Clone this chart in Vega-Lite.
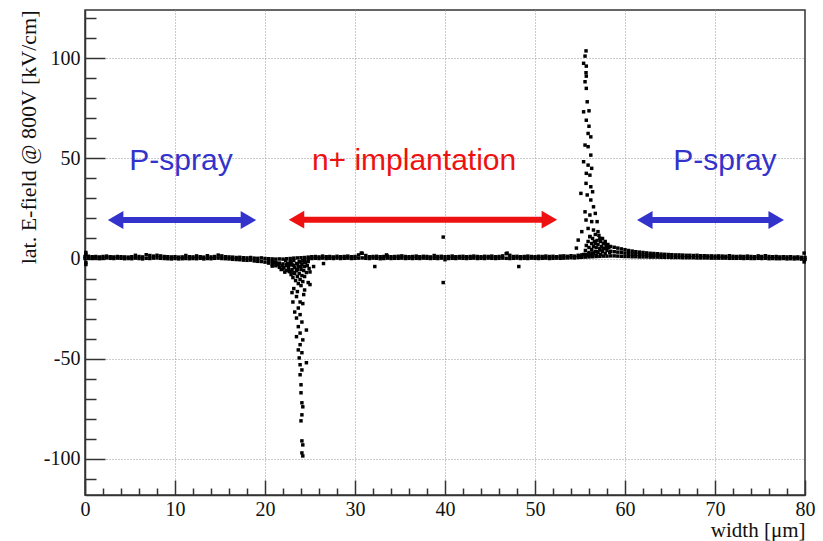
{
  "$schema": "https://vega.github.io/schema/vega-lite/v6.json",
  "width": 720,
  "height": 485,
  "autosize": {"type": "none"},
  "padding": {"left": 85, "top": 10, "right": 18, "bottom": 46},
  "background": "white",
  "config": {
    "view": {"stroke": "#333333", "strokeWidth": 1.5},
    "axis": {
      "labelFont": "Liberation Serif",
      "labelFontSize": 20,
      "labelColor": "#111111",
      "titleFont": "Liberation Serif",
      "titleFontSize": 21,
      "titleFontWeight": "normal",
      "titleColor": "#111111",
      "domainColor": "#333333",
      "domainWidth": 1.5,
      "tickColor": "#333333",
      "tickWidth": 1.5,
      "gridColor": "#999999",
      "gridDash": [1, 2],
      "gridWidth": 1
    }
  },
  "datasets": {
    "base": [
      {"x":0,"a":1.0,"b":0.0},{"x":0.4,"a":1.1,"b":0.2},{"x":0.8,"a":0.9,"b":0.1},{"x":1.2,"a":1.0,"b":0.3},{"x":1.6,"a":0.8,"b":0.0},
      {"x":2.0,"a":1.0,"b":0.2},{"x":2.4,"a":1.2,"b":0.3},{"x":2.8,"a":0.9,"b":0.1},{"x":3.2,"a":0.8,"b":0.0},{"x":3.6,"a":1.0,"b":0.2},
      {"x":4.0,"a":0.9,"b":0.1},{"x":4.4,"a":0.8,"b":-0.1},{"x":4.8,"a":0.7,"b":0.0},{"x":5.2,"a":0.9,"b":-0.1},{"x":5.6,"a":1.6,"b":0.2},
      {"x":6.0,"a":1.0,"b":0.0},{"x":6.4,"a":0.8,"b":-0.2},{"x":6.8,"a":1.9,"b":0.1},{"x":7.2,"a":1.5,"b":0.0},{"x":7.6,"a":1.2,"b":0.2},
      {"x":8.0,"a":1.6,"b":0.3},{"x":8.4,"a":1.3,"b":0.1},{"x":8.8,"a":1.0,"b":0.0},{"x":9.2,"a":0.9,"b":-0.1},{"x":9.6,"a":0.8,"b":-0.2},
      {"x":10.0,"a":0.9,"b":0.0},{"x":10.4,"a":0.7,"b":-0.2},{"x":10.8,"a":0.8,"b":-0.1},{"x":11.2,"a":1.5,"b":0.0},{"x":11.6,"a":0.9,"b":-0.1},
      {"x":12.0,"a":0.8,"b":0.0},{"x":12.4,"a":1.3,"b":-0.1},{"x":12.8,"a":0.9,"b":0.1},{"x":13.2,"a":0.7,"b":-0.2},{"x":13.6,"a":1.4,"b":0.0},
      {"x":14.0,"a":0.8,"b":-0.1},{"x":14.4,"a":1.0,"b":0.1},{"x":14.8,"a":1.7,"b":0.2},{"x":15.2,"a":1.3,"b":0.0},{"x":15.6,"a":0.9,"b":-0.1},
      {"x":16.0,"a":0.8,"b":-0.2},{"x":16.4,"a":0.7,"b":-0.4},{"x":16.8,"a":0.5,"b":-0.5},{"x":17.2,"a":0.6,"b":-0.6},{"x":17.6,"a":0.4,"b":-0.8},
      {"x":18.0,"a":0.3,"b":-0.9},{"x":18.4,"a":0.5,"b":-0.8},{"x":18.8,"a":0.2,"b":-1.2},{"x":19.2,"a":0.1,"b":-1.4},{"x":19.6,"a":0.3,"b":-1.5},
      {"x":20.0,"a":0.0,"b":-1.8},{"x":20.4,"a":-0.1,"b":-2.3,"m":-1.2},{"x":20.8,"a":-0.2,"b":-2.9,"m":-1.5},{"x":21.2,"a":-0.3,"b":-3.6,"m":-1.9},{"x":21.6,"a":-0.2,"b":-4.4,"m":-2.3},
      {"x":22.0,"a":-0.3,"b":-5.2,"m":-2.7},{"x":22.4,"a":-0.1,"b":-6.0,"m":-3.0},{"x":22.8,"a":0.0,"b":-6.5,"m":-3.2},{"x":23.2,"a":0.2,"b":-7.0,"m":-3.5},{"x":23.6,"a":0.3,"b":-5.5,"m":-2.6},
      {"x":24.0,"a":0.4,"b":-4.0,"m":-2.0},{"x":24.4,"a":0.5,"b":-2.0,"m":-1.0},{"x":24.8,"a":0.7,"b":-0.3},{"x":25.2,"a":0.9,"b":0.0},{"x":25.6,"a":1.0,"b":0.1},
      {"x":26.0,"a":0.8,"b":0.0},{"x":26.4,"a":1.2,"b":0.2},{"x":26.8,"a":0.9,"b":0.0},{"x":27.2,"a":1.0,"b":0.1},{"x":27.6,"a":0.8,"b":0.0},
      {"x":28.0,"a":1.1,"b":0.2},{"x":28.4,"a":0.9,"b":0.0},{"x":28.8,"a":1.0,"b":0.1},{"x":29.2,"a":1.2,"b":0.2},{"x":29.6,"a":0.9,"b":0.0},
      {"x":30.0,"a":1.0,"b":0.1},{"x":30.4,"a":1.8,"b":0.2},{"x":30.8,"a":2.6,"b":0.3},{"x":31.2,"a":1.5,"b":0.1},{"x":31.6,"a":0.9,"b":0.0},
      {"x":32.0,"a":1.0,"b":0.2},{"x":32.4,"a":1.1,"b":0.1},{"x":32.8,"a":0.9,"b":-0.1},{"x":33.2,"a":1.0,"b":0.0},{"x":33.6,"a":1.2,"b":0.2},
      {"x":34.0,"a":0.9,"b":0.0},{"x":34.4,"a":1.0,"b":0.1},{"x":34.8,"a":1.1,"b":0.1},{"x":35.2,"a":1.3,"b":0.2},{"x":35.6,"a":1.0,"b":0.0},
      {"x":36.0,"a":0.9,"b":0.1},{"x":36.4,"a":1.0,"b":0.0},{"x":36.8,"a":1.2,"b":0.1},{"x":37.2,"a":0.9,"b":0.0},{"x":37.6,"a":1.1,"b":0.2},
      {"x":38.0,"a":1.0,"b":0.1},{"x":38.4,"a":0.8,"b":0.0},{"x":38.8,"a":1.5,"b":0.1},{"x":39.2,"a":1.0,"b":0.0},{"x":39.6,"a":1.1,"b":0.2},
      {"x":40.0,"a":0.9,"b":-0.6},{"x":40.4,"a":1.0,"b":0.0},{"x":40.8,"a":1.2,"b":0.1},{"x":41.2,"a":0.9,"b":0.0},{"x":41.6,"a":1.0,"b":0.2},
      {"x":42.0,"a":1.1,"b":0.1},{"x":42.4,"a":0.9,"b":0.0},{"x":42.8,"a":1.0,"b":0.1},{"x":43.2,"a":1.2,"b":0.2},{"x":43.6,"a":1.0,"b":0.0},
      {"x":44.0,"a":0.9,"b":0.1},{"x":44.4,"a":1.1,"b":0.0},{"x":44.8,"a":1.0,"b":0.2},{"x":45.2,"a":1.2,"b":0.1},{"x":45.6,"a":0.9,"b":0.0},
      {"x":46.0,"a":1.0,"b":0.1},{"x":46.4,"a":1.3,"b":0.2},{"x":46.8,"a":2.4,"b":0.1},{"x":47.2,"a":1.6,"b":0.0},{"x":47.6,"a":1.0,"b":0.1},
      {"x":48.0,"a":1.1,"b":0.2},{"x":48.4,"a":0.9,"b":0.0},{"x":48.8,"a":1.0,"b":0.1},{"x":49.2,"a":1.2,"b":0.0},{"x":49.6,"a":1.0,"b":0.2},
      {"x":50.0,"a":0.9,"b":0.1},{"x":50.4,"a":1.1,"b":0.0},{"x":50.8,"a":1.0,"b":0.1},{"x":51.2,"a":1.2,"b":0.2},{"x":51.6,"a":1.0,"b":0.0},
      {"x":52.0,"a":1.1,"b":0.1},{"x":52.4,"a":0.9,"b":0.2},{"x":52.8,"a":1.2,"b":0.1},{"x":53.2,"a":1.3,"b":0.2},{"x":53.6,"a":1.1,"b":0.3},
      {"x":54.0,"a":1.4,"b":0.4},{"x":54.4,"a":1.2,"b":0.3},{"x":54.8,"a":1.6,"b":0.5},{"x":55.2,"a":1.8,"b":0.6},{"x":55.6,"a":2.0,"b":0.7},
      {"x":56.0,"a":2.4,"b":0.8},{"x":56.4,"a":2.8,"b":0.9},{"x":56.8,"a":3.4,"b":1.0},{"x":57.2,"a":4.2,"b":1.1},{"x":57.6,"a":5.0,"b":1.2},
      {"x":58.0,"a":5.6,"b":1.2},{"x":58.4,"a":6.0,"b":1.3,"m":3.6},{"x":58.8,"a":5.6,"b":1.3,"m":3.4},{"x":59.2,"a":5.2,"b":1.2,"m":3.2},{"x":59.6,"a":4.8,"b":1.1,"m":3.0},
      {"x":60.0,"a":4.4,"b":1.0,"m":2.7},{"x":60.4,"a":4.0,"b":1.0,"m":2.5},{"x":60.8,"a":3.7,"b":0.9,"m":2.3},{"x":61.2,"a":3.4,"b":0.9,"m":2.1},{"x":61.6,"a":3.2,"b":0.8,"m":2.0},
      {"x":62.0,"a":3.0,"b":0.8,"m":1.9},{"x":62.4,"a":2.8,"b":0.8,"m":1.8},{"x":62.8,"a":2.6,"b":0.7,"m":1.6},{"x":63.2,"a":2.5,"b":0.7,"m":1.6},{"x":63.6,"a":2.4,"b":0.7,"m":1.5},
      {"x":64.0,"a":2.2,"b":0.6,"m":1.4},{"x":64.4,"a":2.1,"b":0.6},{"x":64.8,"a":2.0,"b":0.6},{"x":65.2,"a":1.9,"b":0.5},{"x":65.6,"a":1.8,"b":0.5},
      {"x":66.0,"a":1.8,"b":0.5},{"x":66.4,"a":1.7,"b":0.4},{"x":66.8,"a":1.6,"b":0.4},{"x":67.2,"a":1.6,"b":0.4},{"x":67.6,"a":1.5,"b":0.4},
      {"x":68.0,"a":1.6,"b":0.3},{"x":68.4,"a":1.4,"b":0.3},{"x":68.8,"a":1.4,"b":0.3},{"x":69.2,"a":1.3,"b":0.3},{"x":69.6,"a":1.3,"b":0.2},
      {"x":70.0,"a":1.2,"b":0.2},{"x":70.4,"a":1.3,"b":0.2},{"x":70.8,"a":1.2,"b":0.2},{"x":71.2,"a":1.1,"b":0.2},{"x":71.6,"a":1.4,"b":0.1},
      {"x":72.0,"a":1.1,"b":0.1},{"x":72.4,"a":1.0,"b":0.1},{"x":72.8,"a":1.1,"b":0.1},{"x":73.2,"a":1.0,"b":0.0},{"x":73.6,"a":1.2,"b":0.1},
      {"x":74.0,"a":1.0,"b":0.0},{"x":74.4,"a":0.9,"b":0.0},{"x":74.8,"a":1.3,"b":0.1},{"x":75.2,"a":1.0,"b":0.0},{"x":75.6,"a":1.4,"b":0.1},
      {"x":76.0,"a":1.0,"b":-0.1},{"x":76.4,"a":0.9,"b":0.0},{"x":76.8,"a":1.0,"b":-0.1},{"x":77.2,"a":0.8,"b":-0.1},{"x":77.6,"a":0.9,"b":0.0},
      {"x":78.0,"a":0.8,"b":-0.2},{"x":78.4,"a":0.9,"b":-0.1},{"x":78.8,"a":0.7,"b":-0.2},{"x":79.2,"a":0.8,"b":-0.1},{"x":79.6,"a":0.6,"b":-0.3},
      {"x":80.0,"a":0.5,"b":-0.5}
    ],
    "pts": [
      {"x":0.1,"y":3.0},{"x":0.1,"y":2.0},{"x":0.1,"y":-2.0},{"x":0.1,"y":-3.0},{"x":79.9,"y":2.7},{"x":79.9,"y":-1.7},
      {"x":22.3,"y":-1},{"x":22.5,"y":-2.5},{"x":22.6,"y":-4},{"x":22.7,"y":-6.5},{"x":22.8,"y":-1.5},{"x":22.9,"y":-8},
      {"x":23.0,"y":-3},{"x":23.0,"y":-5.5},{"x":23.1,"y":-9.5},{"x":23.2,"y":-1},{"x":23.3,"y":-4.5},{"x":23.3,"y":-7.5},
      {"x":23.4,"y":-11},{"x":23.5,"y":-2.5},{"x":23.5,"y":-6},{"x":23.6,"y":-9},{"x":23.7,"y":-12.5},{"x":23.7,"y":-4},
      {"x":23.8,"y":-1.5},{"x":23.8,"y":-7.5},{"x":23.9,"y":-10.5},{"x":24.0,"y":-5.5},{"x":24.0,"y":-13.5},{"x":24.1,"y":-3},
      {"x":24.1,"y":-8.5},{"x":24.2,"y":-1},{"x":24.2,"y":-11.5},{"x":24.3,"y":-6},{"x":24.4,"y":-4},{"x":24.4,"y":-9},
      {"x":24.5,"y":-2},{"x":24.6,"y":-7},{"x":24.7,"y":-3.5},{"x":24.8,"y":-1.5},{"x":24.9,"y":-5},{"x":25.0,"y":-6.7},
      {"x":24.8,"y":-12},{"x":24.4,"y":-15.7},{"x":22.6,"y":-5.5},{"x":22.9,"y":-2.2},{"x":22.4,"y":-3.5},{"x":22.1,"y":-4.5},
      {"x":21.9,"y":-3.5},{"x":21.5,"y":-3},{"x":21.8,"y":-5.5},{"x":21.3,"y":-2.5},{"x":21.0,"y":-2},{"x":20.8,"y":-3.8},{"x":22.2,"y":-6.8},
      {"x":23.2,"y":-15},{"x":24.3,"y":-18},{"x":23.6,"y":-16.5},
      {"x":23.0,"y":-17},{"x":23.5,"y":-19},{"x":23.1,"y":-21.7},{"x":23.9,"y":-21.7},{"x":24.2,"y":-22.5},{"x":23.7,"y":-24.7},
      {"x":23.3,"y":-26.7},{"x":23.9,"y":-28},{"x":23.5,"y":-29.7},{"x":24.1,"y":-31.7},{"x":23.7,"y":-34},{"x":24.6,"y":-35.7},
      {"x":23.9,"y":-37.2},{"x":23.5,"y":-39},{"x":24.2,"y":-40.6},{"x":23.9,"y":-43},{"x":23.7,"y":-45.6},{"x":24.1,"y":-47},
      {"x":23.8,"y":-49.6},{"x":24.6,"y":-52},{"x":23.9,"y":-53},{"x":24.1,"y":-55.6},{"x":23.9,"y":-58},{"x":24.0,"y":-63},
      {"x":24.0,"y":-67},{"x":24.1,"y":-72},{"x":24.2,"y":-74},{"x":24.1,"y":-78},{"x":24.0,"y":-81},{"x":24.1,"y":-91},
      {"x":24.2,"y":-93},{"x":24.1,"y":-97},{"x":24.2,"y":-98.5},
      {"x":25.0,"y":-13},{"x":25.4,"y":-4},{"x":26.5,"y":-2.5},{"x":32.2,"y":-4},{"x":39.8,"y":10.7},{"x":39.8,"y":-12},
      {"x":48.2,"y":-4},{"x":30.7,"y":2.7},{"x":46.9,"y":2.7},{"x":33.5,"y":1.8},
      {"x":55.67,"y":103.6},{"x":55.56,"y":101},{"x":55.4,"y":97.4},{"x":55.7,"y":96},{"x":55.67,"y":92.7},{"x":55.7,"y":91},
      {"x":55.56,"y":88.2},{"x":55.7,"y":84.9},{"x":55.8,"y":78.2},{"x":55.4,"y":73.2},{"x":56.0,"y":73.7},{"x":55.7,"y":69},
      {"x":56.0,"y":66},{"x":55.9,"y":62.4},{"x":56.2,"y":60.7},{"x":55.56,"y":56.6},{"x":55.9,"y":55.8},{"x":56.2,"y":51.6},
      {"x":55.4,"y":48.3},{"x":55.9,"y":46.6},{"x":56.3,"y":45},{"x":55.7,"y":42.5},{"x":56.1,"y":41.6},{"x":55.67,"y":37.5},
      {"x":56.2,"y":35.8},{"x":55.1,"y":32.5},{"x":55.8,"y":31.7},{"x":56.4,"y":33.3},{"x":56.2,"y":29.2},{"x":56.5,"y":25.8},
      {"x":55.56,"y":23.3},{"x":56.1,"y":21.7},{"x":56.7,"y":22.5},{"x":55.67,"y":19.2},{"x":56.3,"y":18.4},{"x":56.9,"y":18.4},
      {"x":55.2,"y":13.4},{"x":55.9,"y":15},{"x":56.5,"y":14.2},{"x":57.0,"y":13.4},{"x":54.8,"y":9.2},{"x":56.1,"y":10.9},
      {"x":57.2,"y":10.1},{"x":56.7,"y":7.6},{"x":57.8,"y":7.6},{"x":54.6,"y":5.2},
      {"x":55.4,"y":2},{"x":55.6,"y":4},{"x":55.7,"y":6.5},{"x":55.8,"y":1.5},{"x":55.9,"y":8.5},{"x":56.0,"y":3},
      {"x":56.0,"y":5.5},{"x":56.1,"y":11},{"x":56.2,"y":1.5},{"x":56.3,"y":4.5},{"x":56.3,"y":7.5},{"x":56.4,"y":10},
      {"x":56.5,"y":2.5},{"x":56.5,"y":6},{"x":56.6,"y":8.5},{"x":56.7,"y":12},{"x":56.7,"y":3.5},{"x":56.8,"y":1.5},
      {"x":56.8,"y":5.5},{"x":56.9,"y":9},{"x":57.0,"y":3},{"x":57.0,"y":7},{"x":57.1,"y":11.5},{"x":57.2,"y":5},
      {"x":57.3,"y":2},{"x":57.3,"y":8.5},{"x":57.4,"y":6},{"x":57.5,"y":3.5},{"x":57.5,"y":10},{"x":57.6,"y":7.5},
      {"x":57.7,"y":5},{"x":57.8,"y":2.5},{"x":57.8,"y":8.5},{"x":57.9,"y":6.5},{"x":58.0,"y":4},{"x":58.1,"y":7},
      {"x":58.2,"y":5.5},{"x":58.3,"y":3},{"x":55.2,"y":1},{"x":55.0,"y":0.8}
    ],
    "arrows": [
      {"region":"P-spray","from":3.4,"to":18.16,"y":19.2},
      {"region":"n+","from":23.5,"to":51.6,"y":19.4},
      {"region":"P-spray","from":62.2,"to":76.8,"y":19.2}
    ],
    "labels": [
      {"region":"P-spray","x":10.67,"y":44.1,"text":"P-spray"},
      {"region":"n+","x":36.56,"y":44.1,"text":"n+ implantation"},
      {"region":"P-spray","x":71.1,"y":44.1,"text":"P-spray"}
    ]
  },
  "layer": [
    {
      "data": {"name": "base"},
      "transform": [{"fold": ["a", "m", "b"], "as": ["k", "y"]}],
      "mark": {"type": "point", "shape": "square", "filled": true, "size": 12, "color": "#000000", "opacity": 1},
      "encoding": {
        "x": {
          "field": "x", "type": "quantitative",
          "scale": {"domain": [0, 80], "nice": false, "zero": false},
          "axis": {
            "title": "width [μm]",
            "titleAnchor": "end",
            "titleAlign": "right",
            "titleBaseline": "alphabetic",
            "titleY": 41,
            "tickCount": 500,
            "values": [0,2,4,6,8,10,12,14,16,18,20,22,24,26,28,30,32,34,36,38,40,42,44,46,48,50,52,54,56,58,60,62,64,66,68,70,72,74,76,78,80],
            "labelExpr": "datum.value % 10 === 0 ? '' + datum.value : ''",
            "labelPadding": 19,
            "labelFlush": false,
            "labelOverlap": false,
            "tickSize": {"condition": {"test": "datum.value % 10 === 0", "value": -15}, "value": -7},
            "grid": true,
            "gridOpacity": {"condition": {"test": "datum.value % 10 === 0 && datum.value > 0 && datum.value < 80", "value": 1}, "value": 0}
          }
        },
        "y": {
          "field": "y", "type": "quantitative",
          "scale": {"domain": [-118, 124], "nice": false, "zero": false},
          "axis": {
            "title": "lat. E-field @ 800V [kV/cm]",
            "titleAnchor": "end",
            "titlePadding": 3,
            "titleFontSize": 22,
            "tickCount": 500,
            "values": [-110,-100,-90,-80,-70,-60,-50,-40,-30,-20,-10,0,10,20,30,40,50,60,70,80,90,100,110,120],
            "labelExpr": "datum.value % 50 === 0 ? '' + datum.value : ''",
            "labelPadding": 25,
            "labelOverlap": false,
            "tickSize": {"condition": {"test": "datum.value % 50 === 0", "value": -20}, "value": -11},
            "grid": true,
            "gridOpacity": {"condition": {"test": "datum.value % 50 === 0", "value": 1}, "value": 0}
          }
        }
      }
    },
    {
      "data": {"name": "pts"},
      "mark": {"type": "point", "shape": "square", "filled": true, "size": 12, "color": "#000000", "opacity": 1},
      "encoding": {
        "x": {"field": "x", "type": "quantitative"},
        "y": {"field": "y", "type": "quantitative"}
      }
    },
    {
      "data": {"name": "arrows"},
      "mark": {"type": "rule", "strokeWidth": 6},
      "encoding": {
        "x": {"field": "from", "type": "quantitative"},
        "x2": {"field": "to"},
        "y": {"field": "y", "type": "quantitative"},
        "color": {"field": "region", "type": "nominal", "scale": {"domain": ["P-spray", "n+"], "range": ["#3333cc", "#ee1111"]}, "legend": null}
      }
    },
    {
      "data": {"name": "arrows"},
      "mark": {"type": "point", "shape": "triangle-left", "filled": true, "size": 320, "opacity": 1},
      "encoding": {
        "x": {"field": "from", "type": "quantitative"},
        "y": {"field": "y", "type": "quantitative"},
        "color": {"field": "region", "type": "nominal", "legend": null}
      }
    },
    {
      "data": {"name": "arrows"},
      "mark": {"type": "point", "shape": "triangle-right", "filled": true, "size": 320, "opacity": 1},
      "encoding": {
        "x": {"field": "to", "type": "quantitative"},
        "y": {"field": "y", "type": "quantitative"},
        "color": {"field": "region", "type": "nominal", "legend": null}
      }
    },
    {
      "data": {"name": "labels"},
      "mark": {"type": "text", "font": "Liberation Sans", "fontSize": 30, "align": "center", "baseline": "alphabetic"},
      "encoding": {
        "x": {"field": "x", "type": "quantitative"},
        "y": {"field": "y", "type": "quantitative"},
        "text": {"field": "text"},
        "color": {"field": "region", "type": "nominal", "legend": null}
      }
    }
  ]
}
